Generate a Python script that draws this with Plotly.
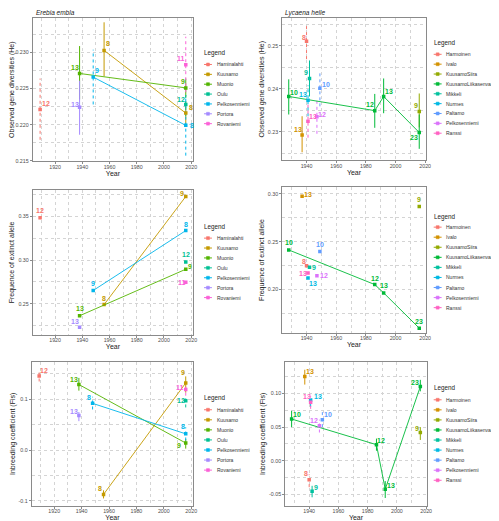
import plotly.graph_objects as go

W, H = 499, 521

# ---------------- data: Erebia embla ----------------
ee_pops = ["Haminalahti", "Kuusamo", "Muonio", "Oulu", "Pelkosenniemi", "Portora", "Rovaniemi"]
ee_colors = ["#F8766D", "#C49A00", "#53B400", "#00C094", "#00B6EB", "#A58AFF", "#FB61D7"]
ee_pop = ["Haminalahti", "Kuusamo", "Kuusamo", "Muonio", "Muonio", "Oulu",
          "Pelkosenniemi", "Pelkosenniemi", "Portora", "Rovaniemi"]
ee_year = [1909, 1956, 2016, 1938, 2016, 2016, 1948, 2016, 1938, 2016]
ee_he = [0.2221, 0.2303, 0.2216, 0.2271, 0.2251, 0.2228, 0.2266, 0.2199, 0.2224, 0.2283]
ee_he_lo = [0.2179, 0.2267, 0.2200, 0.2235, 0.2238, 0.2212, 0.2228, 0.2157, 0.2186, 0.2245]
ee_he_hi = [0.2264, 0.2342, 0.2232, 0.2309, 0.2264, 0.2244, 0.2304, 0.2241, 0.2261, 0.2322]
ee_he_n = [12, 8, 8, 13, 9, 12, 9, 8, 13, 11]
ee_ext = [0.3483, 0.2491, 0.3727, 0.2363, 0.2895, 0.2978, 0.2652, 0.3337, 0.2233, 0.2745]
ee_ext_n = [12, 8, 9, 13, 9, 12, 9, 8, 13, 11]
ee_fis = [0.146, -0.087, 0.132, 0.129, 0.014, 0.097, 0.092, 0.032, 0.068, 0.119]
ee_fis_lo = [0.135, -0.095, 0.113, 0.117, 0.003, 0.084, 0.080, 0.019, 0.057, 0.107]
ee_fis_hi = [0.158, -0.079, 0.145, 0.142, 0.022, 0.106, 0.105, 0.045, 0.075, 0.131]
ee_fis_n = [12, 8, 9, 13, 9, 12, 8, 8, 13, 11]

# ---------------- data: Lycaena helle ----------------
lh_pops = ["Harmoinen", "Ivalo", "KuusamoSiira", "KuusamoLiikasenvaara", "Mikkeli",
           "Nurmes", "Paltamo", "Pelkosenniemi", "Ranssi"]
lh_colors = ["#F8766D", "#D39200", "#93AA00", "#00BA38", "#00C19F", "#00B9E3",
             "#619CFF", "#DB72FB", "#FF61C3"]
lh_pop = ["Harmoinen", "Ivalo", "KuusamoSiira", "KuusamoLiikasenvaara", "KuusamoLiikasenvaara",
          "KuusamoLiikasenvaara", "KuusamoLiikasenvaara", "Mikkeli", "Nurmes", "Paltamo",
          "Pelkosenniemi", "Ranssi"]
lh_year = [1940, 1937, 2016, 1928, 1986, 1992, 2016, 1942, 1941, 1949, 1947, 1941]
lh_he = [0.2511, 0.2292, 0.2347, 0.2382, 0.2349, 0.2382, 0.2298, 0.2424, 0.2373, 0.2401, 0.2335, 0.2324]
lh_he_lo = [0.2469, 0.2252, 0.2310, 0.2340, 0.2309, 0.2343, 0.2260, 0.2382, 0.2336, 0.2359, 0.2295, 0.2286]
lh_he_hi = [0.2551, 0.2336, 0.2389, 0.2422, 0.2388, 0.2424, 0.2340, 0.2466, 0.2408, 0.2443, 0.2375, 0.2368]
lh_he_n = [8, 13, 9, 10, 12, 13, 23, 9, 13, 10, 12, 13]
lh_ext = [0.2248, 0.2976, 0.2869, 0.2414, 0.2052, 0.1965, 0.1596, 0.2234, 0.2120, 0.2397, 0.2145, 0.2172]
lh_ext_n = [8, 13, 9, 10, 12, 13, 23, 9, 13, 10, 12, 13]
lh_fis = [-0.028, 0.125, 0.042, 0.062, 0.024, -0.042, 0.110, -0.045, 0.090, 0.061, 0.052, 0.087]
lh_fis_lo = [-0.039, 0.113, 0.031, 0.050, 0.015, -0.055, 0.103, -0.054, 0.080, 0.050, 0.042, 0.077]
lh_fis_hi = [-0.020, 0.135, 0.050, 0.074, 0.033, -0.030, 0.120, -0.037, 0.098, 0.075, 0.061, 0.096]
lh_fis_n = [8, 13, 9, 10, 12, 13, 23, 9, 13, 10, 12, 13]

# ---------------- styling / placement (not data) ----------------
ee_dash = {"Haminalahti": "dot", "Kuusamo": "solid", "Muonio": "solid", "Oulu": "dot",
           "Pelkosenniemi": "dot", "Portora": "solid", "Rovaniemi": "dot"}
lh_dash = {"Harmoinen": "dot", "Ivalo": "solid", "KuusamoSiira": "solid",
           "KuusamoLiikasenvaara": "solid", "Mikkeli": "solid", "Nurmes": "dot",
           "Paltamo": "dot", "Pelkosenniemi": "dot", "Ranssi": "dot"}

ee_he_off = [(6, -6), (4, -7), (5, -6), (-5, -6), (-3, -6), (-5, -5), (4, -7), (6, 0), (-5, -3), (-5, -6)]
ee_ext_off = [(0, -7), (0, -6), (-4, -3), (0, -7), (4, -3), (0, -7), (0, -7), (0, -6), (-5, -6), (-4, 0)]
ee_fis_off = [(5, -5), (-4, -6), (-3, -10), (-5, -5), (-7, 2), (-5, 0), (-4, -6), (-3, -7), (-5, -4), (-6, -2)]
lh_he_off = [(-3, -4), (-4, -6), (-3, -6), (5, -4), (-5, -6), (5, -5), (-5, 5), (-4, -6), (-5, -6), (6, -4), (5, -2), (5, -5)]
lh_ext_off = [(-3, -4), (6, -2), (0, -7), (0, -7), (0, -6), (0, -7), (0, -7), (4, 0), (5, 5), (0, -7), (7, 0), (-5, 0)]
lh_fis_off = [(-3, -6), (5, -5), (-3, -4), (5, -5), (5, -4), (6, -4), (-5, -4), (4, -4), (7, -4), (6, -5), (-5, -5), (-4, -6)]

FONT = "Liberation Sans, Arial, sans-serif"
TICKC = "#4d4d4d"
BOXC = "#8a8a8a"
GRIDC = "#d4d4d4"
TITLEC = "#1a1a1a"

ee = dict(pops=ee_pops, colors=ee_colors, pop=ee_pop, year=ee_year, dash=ee_dash,
          xr=[1903.6, 2021.4], xt=[1920, 1940, 1960, 1980, 2000, 2020])
lh = dict(pops=lh_pops, colors=lh_colors, pop=lh_pop, year=lh_year, dash=lh_dash,
          xr=[1923.6, 2020.4], xt=[1940, 1960, 1980, 2000, 2020])

panels = [
    dict(sp=ee, val=ee_he, lo=ee_he_lo, hi=ee_he_hi, n=ee_he_n, off=ee_he_off,
         box=(25, 187, 10, 154), yr=[0.2149, 0.2348], yt=[0.215, 0.220, 0.225, 0.230],
         yfmt="{:.3f}", ytitle="Observed gene diversities (He)", title="Erebia embla",
         leg=(196, 45, 56.7, 9.9), lxo=13),
    dict(sp=lh, val=lh_he, lo=lh_he_lo, hi=lh_he_hi, n=lh_he_n, off=lh_he_off,
         box=(277, 422, 10, 153), yr=[0.2233, 0.2565], yt=[0.23, 0.24, 0.25],
         yfmt="{:.2f}", ytitle="Observed gene diversities (He)", title="Lycaena helle",
         leg=(428, 35, 46.5, 9.9), lxo=12),
    dict(sp=ee, val=ee_ext, lo=None, hi=None, n=ee_ext_n, off=ee_ext_off,
         box=(25, 187, 183, 328), yr=[0.2146, 0.3798], yt=[0.25, 0.30, 0.35],
         yfmt="{:.2f}", ytitle="Frequence of extinct allele", title=None,
         leg=(196, 219.5, 231, 9.95), lxo=13),
    dict(sp=lh, val=lh_ext, lo=None, hi=None, n=lh_ext_n, off=lh_ext_off,
         box=(277, 422, 180, 326), yr=[0.1548, 0.3069], yt=[0.20, 0.25, 0.30],
         yfmt="{:.2f}", ytitle="Frequence of extinct allele", title=None,
         leg=(428, 209.5, 220, 10.1), lxo=12),
    dict(sp=ee, val=ee_fis, lo=ee_fis_lo, hi=ee_fis_hi, n=ee_fis_n, off=ee_fis_off,
         box=(24, 187, 355, 500), yr=[-0.110, 0.174], yt=[-0.1, 0.0, 0.1],
         yfmt="{:.1f}", ytitle="Inbreeding coefficient (Fis)", title=None,
         leg=(196, 391.5, 403.3, 10.1), lxo=13),
    dict(sp=lh, val=lh_fis, lo=lh_fis_lo, hi=lh_fis_hi, n=lh_fis_n, off=lh_fis_off,
         box=(280, 423, 355, 500), yr=[-0.067, 0.147], yt=[-0.05, 0.0, 0.05, 0.10],
         yfmt="{:.2f}", ytitle="Inbreeding coefficient (Fis)", title=None,
         leg=(428, 381.5, 393.3, 10.1), lxo=12),
]

fig = go.Figure()
annotations = []
shapes = []


def px(x):
    return x / W


def py(y):
    return 1 - y / H


for i, p in enumerate(panels, start=1):
    sp = p["sp"]
    xa = "x" if i == 1 else f"x{i}"
    ya = "y" if i == 1 else f"y{i}"
    cmap = dict(zip(sp["pops"], sp["colors"]))
    pop, year, val = sp["pop"], sp["year"], p["val"]
    # error bars
    if p["lo"] is not None:
        for k in range(len(pop)):
            fig.add_trace(go.Scatter(
                x=[year[k], year[k]], y=[p["lo"][k], p["hi"][k]], mode="lines",
                line=dict(color=cmap[pop[k]], width=1, dash=sp["dash"][pop[k]]),
                xaxis=xa, yaxis=ya, showlegend=False, hoverinfo="skip"))
    # lines + points per population
    for name in sp["pops"]:
        idx = [k for k in range(len(pop)) if pop[k] == name]
        idx.sort(key=lambda k: year[k])
        xs = [year[k] for k in idx]
        ys = [val[k] for k in idx]
        fig.add_trace(go.Scatter(
            x=xs, y=ys, mode="lines+markers",
            line=dict(color=cmap[name], width=0.9),
            marker=dict(color=cmap[name], size=3.5, symbol="square"),
            xaxis=xa, yaxis=ya, showlegend=False, name=name))
    # sample-size labels
    for k in range(len(pop)):
        dx, dy = p["off"][k]
        annotations.append(dict(
            x=year[k], y=val[k], xref=xa, yref=ya, text=f"<b>{p['n'][k]}</b>",
            showarrow=False, xshift=dx, yshift=-dy, xanchor="center", yanchor="middle",
            font=dict(family=FONT, size=7, color=cmap[pop[k]])))
    # axes
    x0, x1, y0, y1 = p["box"]
    axcommon = dict(showline=True, mirror=True, linecolor=BOXC, linewidth=1,
                    ticks="outside", ticklen=2, tickcolor=BOXC, tickwidth=1,
                    tickfont=dict(family=FONT, size=5.3, color=TICKC),
                    showgrid=True, gridcolor=GRIDC, griddash="dot", gridwidth=1,
                    zeroline=False)
    fig.layout[f"xaxis{'' if i == 1 else i}"] = dict(
        domain=[px(x0), px(x1)], anchor=ya, range=sp["xr"], tickvals=sp["xt"],
        ticktext=[str(t) for t in sp["xt"]], ticklabelstandoff=-2,
        title=dict(text="Year", font=dict(family=FONT, size=7, color=TITLEC), standoff=0),
        minor=dict(showgrid=True, gridcolor=GRIDC, griddash="dot", dtick=10, tick0=1900),
        **axcommon)
    yminor = (p["yt"][1] - p["yt"][0]) / 2
    fig.layout[f"yaxis{'' if i == 1 else i}"] = dict(
        domain=[py(y1), py(y0)], anchor=xa, range=p["yr"], tickvals=p["yt"],
        ticktext=[p["yfmt"].format(t) for t in p["yt"]],
        title=dict(text=p["ytitle"], font=dict(family=FONT, size=7, color=TITLEC), standoff=2),
        minor=dict(showgrid=True, gridcolor=GRIDC, griddash="dot", dtick=yminor,
                   tick0=p["yt"][0]),
        **axcommon)
    if p["title"]:
        annotations.append(dict(
            x=px(x0 + 1), y=py(y0 - 5), xref="paper", yref="paper", text=f"<i>{p['title']}</i>",
            showarrow=False, xanchor="left", yanchor="middle",
            font=dict(family=FONT, size=6.5, color=TITLEC)))
    # legend (built per panel, ggplot style)
    lx, lty, ly0, lstep = p["leg"]
    annotations.append(dict(
        x=px(lx), y=py(lty), xref="paper", yref="paper", text="Legend", showarrow=False,
        xanchor="left", yanchor="middle", font=dict(family=FONT, size=6.3, color=TITLEC)))
    for j, (name, col) in enumerate(zip(sp["pops"], sp["colors"])):
        yy = ly0 + j * lstep
        shapes.append(dict(type="line", xref="paper", yref="paper",
                           x0=px(lx + 2), x1=px(lx + 10), y0=py(yy), y1=py(yy),
                           line=dict(color=col, width=1)))
        shapes.append(dict(type="rect", xref="paper", yref="paper",
                           x0=px(lx + 4.5), x1=px(lx + 7.5), y0=py(yy - 1.5), y1=py(yy + 1.5),
                           line=dict(color=col, width=0.5), fillcolor=col))
        annotations.append(dict(
            x=px(lx + p["lxo"]), y=py(yy), xref="paper", yref="paper", text=name, showarrow=False,
            xanchor="left", yanchor="middle", font=dict(family=FONT, size=5, color="#333")))

fig.update_layout(
    width=W, height=H, margin=dict(l=0, r=0, t=0, b=0),
    paper_bgcolor="white", plot_bgcolor="white", showlegend=False,
    annotations=annotations, shapes=shapes,
    font=dict(family=FONT, size=6, color=TICKC))

fig.write_html("out.html")
